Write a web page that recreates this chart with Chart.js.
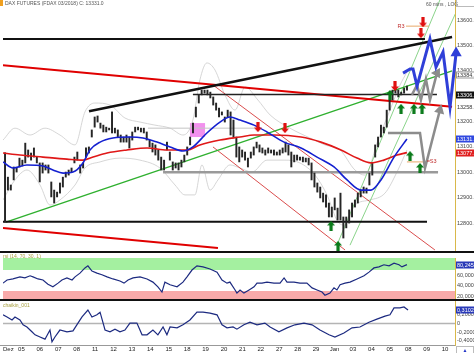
<!DOCTYPE html>
<html>
<head>
<meta charset="utf-8">
<script src="https://cdn.jsdelivr.net/npm/chart.js@4.4.0/dist/chart.umd.min.js"></script>
<style>
  body { margin: 0; background: #fff; }
  #wrap { position: relative; width: 474px; height: 353px; overflow: hidden; background: #fff;
          font-family: "Liberation Sans", Arial, sans-serif; }
  canvas { position: absolute; left: 0; }
  .t { position: absolute; font-size: 5px; line-height: 6px; white-space: nowrap; }
  .rule { position: absolute; left: 0; width: 474px; }
</style>
</head>
<body>
<div id="wrap">
  <canvas id="mainChart" width="474" height="252" style="top:0"></canvas>
  <canvas id="rsiChart" width="474" height="48" style="top:252px"></canvas>
  <canvas id="chaikinChart" width="474" height="53" style="top:300px"></canvas>

  <div class="t" style="left:0;top:0;width:3px;height:6px;background:#f0a020"></div>
  <div class="t" style="left:5px;top:0;color:#555">DAX FUTURES (FDAX 03/2018) C: 13331.0</div>
  <div class="t" style="left:426px;top:1px;color:#555">60 mins , LOG</div>
  <div class="t" style="left:456px;top:0;width:17px;height:6px;border:1px solid #bbb;border-top:0"></div>

  <div class="rule" style="top:251px;height:2px;background:#111"></div>
  <div class="t" style="left:3px;top:253px;color:#a8a040">rsi (14, 70, 30, 1)</div>
  <div class="rule" style="top:299px;height:2px;background:#111"></div>
  <div class="t" style="left:3px;top:302px;color:#a8a040">chaikin_001</div>
  <div class="rule" style="top:345px;height:1px;background:#999;width:455px"></div>
  <div class="t" style="left:456px;top:346px;width:16px;height:6px;border:1px solid #bbb;color:#2436c8;text-align:center">&#9650;</div>
</div>

<script>
// ============================================
// Data
// ============================================
const dayLabels = ['Dez', '05', '06', '07', '08', '11', '12', '13', '14', '15', '18', '19', '20',
                   '21', '22', '27', '28', '29', 'Jan', '03', '04', '05', '08', '09', '10'];

// hourly price ranges, one sample every candleStep days
const candleStart = 0.11;
const candleStep = 0.157;
const candleHigh = [
    13077, 12981, 12950, 13021, 13017, 13056, 13048, 13115, 13088, 13076,
    13096, 13060, 13037, 13037, 13029, 13029, 12962, 12930, 12922, 12958,
    12981, 13001, 13009, 13017, 13060, 13080, 13029, 13037, 13096, 13100,
    13167, 13218, 13222, 13194, 13186, 13178, 13174, 13238, 13174, 13167,
    13147, 13139, 13147, 13139, 13159, 13178, 13178, 13174, 13174, 13159,
    13127, 13115, 13108, 13088, 13060, 13048, 13119, 13080, 13041, 13037,
    13037, 13048, 13068, 13100, 13139, 13194, 13257, 13305, 13324, 13324,
    13324, 13316, 13297, 13273, 13253, 13238, 13218, 13245, 13238, 13206,
    13139, 13100, 13088, 13080, 13056, 13080, 13100, 13119, 13108, 13096,
    13088, 13096, 13088, 13088, 13080, 13088, 13096, 13119, 13108, 13080,
    13068, 13068, 13060, 13060, 13056, 13056, 13037, 12997, 12958, 12942,
    12918, 12911, 12879, 12863, 12899, 12859, 12918, 12824, 12824, 12852,
    12879, 12891, 12918, 12930, 12942, 12938, 12997, 13037, 13108, 13139,
    13186, 13178, 13245, 13285, 13324, 13332, 13324, 13316, 13332, 13340
];
const candleLow = [
    12804, 12930, 12930, 12970, 13001, 13021, 13025, 13037, 13060, 13048,
    13060, 13037, 12962, 12997, 13009, 12997, 12903, 12879, 12903, 12918,
    12942, 12981, 12989, 13001, 13037, 13048, 12997, 13017, 13060, 13076,
    13139, 13178, 13198, 13174, 13159, 13159, 13167, 13155, 13155, 13139,
    13119, 13119, 13119, 13096, 13127, 13159, 13167, 13159, 13155, 13127,
    13100, 13080, 13068, 13048, 13009, 13009, 13088, 13048, 13009, 13017,
    13009, 13021, 13041, 13068, 13108, 13155, 13218, 13273, 13305, 13312,
    13305, 13293, 13265, 13245, 13218, 13226, 13198, 13218, 13147, 13139,
    13060, 13041, 13060, 13048, 13021, 13056, 13068, 13096, 13080, 13076,
    13068, 13076, 13076, 13068, 13068, 13068, 13076, 13080, 13068, 13021,
    13041, 13048, 13048, 13041, 13041, 13029, 12970, 12942, 12922, 12899,
    12883, 12863, 12824, 12824, 12852, 12812, 12812, 12741, 12781, 12800,
    12824, 12863, 12879, 12903, 12918, 12918, 12950, 12989, 13060, 13100,
    13139, 13155, 13178, 13245, 13285, 13312, 13297, 13305, 13312, 13324
];

// moving averages
const blueMaDays = [0, 0.54, 1.30, 2.17, 2.71, 3.26, 3.80, 4.34, 4.72, 5.27, 5.97, 6.89, 7.60, 8.36, 9.07,
                    9.77, 10.31, 11.07, 11.78, 12.32, 12.87, 13.63, 14.33, 15.26, 16.18, 17.05, 17.97,
                    18.68, 19.44, 19.98, 20.52, 21.23, 21.93];
const blueMa = [13041, 13017, 13029, 13025, 13009, 12997, 13001, 13037, 13088, 13119, 13135, 13139,
                13135, 13119, 13100, 13084, 13100, 13155, 13198, 13218, 13206, 13186, 13159, 13119,
                13096, 13060, 13021, 12970, 12930, 12930, 12970, 13060, 13131.25];
const redMaDays = [0, 0.92, 2.17, 3.47, 4.34, 4.89, 5.65, 6.73, 7.82, 8.90, 9.99, 10.69, 11.78, 12.87,
                   13.63, 14.71, 16.18, 17.26, 18.35, 19.22, 19.98, 20.68, 21.39, 21.93];
const redMa = [13076, 13068, 13060, 13052, 13048, 13060, 13076, 13088, 13096, 13088, 13088, 13108,
               13127, 13139, 13147, 13147, 13139, 13119, 13088, 13056, 13037, 13048, 13068, 13077.5];

// bollinger bands
const bandUpDays = [0, 0.65, 1.47, 2.28, 3.09, 3.91, 4.45, 4.99, 5.81, 6.62, 7.44, 8.25, 9.07, 9.77,
                    10.31, 10.69, 11.07, 11.51, 12.05, 12.60, 13.14, 13.84, 14.50, 15.58, 16.67, 17.48,
                    18.30, 19.11, 19.65, 20.36, 21.01, 21.55, 21.93];
const bandUp = [13127, 13174, 13147, 13174, 13147, 13108, 13238, 13273, 13265, 13214, 13198, 13186,
                13174, 13147, 13206, 13364, 13431, 13403, 13305, 13245, 13336, 13285, 13226, 13174,
                13135, 13108, 13088, 13009, 12989, 13127, 13245, 13343, 13395];
const bandLowDays = [0, 0.65, 1.30, 2.01, 2.55, 3.09, 3.91, 4.45, 5.27, 6.35, 7.44, 8.52, 9.34, 9.88,
                     10.42, 10.80, 11.24, 11.67, 12.32, 12.87, 13.52, 14.33, 15.31, 16.12, 16.94, 17.59,
                     18.19, 18.57, 19.11, 19.92, 20.74, 21.39, 21.93];
const bandLow = [12891, 12970, 13009, 12950, 12871, 12891, 12950, 13017, 13041, 13056, 13048, 13017,
                 12950, 12911, 12911, 13029, 12930, 12970, 13029, 13017, 13001, 13048, 13048, 13037,
                 12989, 12911, 12804, 12792, 12871, 12891, 12918, 13001, 13088];

// drawn trend lines and levels: [day, price]
const blackTop = [[0, 13525], [22.91, 13525]];
const blackRise = [[4.67, 13241], [24.38, 13533]];
const black13306 = [[10.31, 13306.5], [23.56, 13306.5]];
const black12805 = [[0, 12805], [23.02, 12805]];
const redTop = [[0, 13422], [24.38, 13258.25]];
const redBottom = [[0, 12781], [11.67, 12702]];
const greenLong = [[0.16, 12804], [24.38, 13400]];
const greenChanA = [[18.13, 12713], [23.72, 13679]];
const greenChanB = [[18.84, 12713], [24.65, 13639]];
const redChanA = [[11.40, 13344], [23.45, 12694]];
const redChanB = [[11.40, 13100], [18.57, 12694]];
const grayLevel = [[8.69, 13000], [23.62, 13000]];
const grayThin = [[7.87, 13174], [13.95, 13174]];
const r3Level = [[21.88, 13576], [23.13, 13576]];
const s3Level = [[21.93, 13041], [22.91, 13041]];

// projected paths
const blueProjection = [[21.72, 13391], [22.10, 13407], [22.26, 13407], [22.48, 13340], [23.18, 13525],
                        [23.51, 13415], [23.89, 13474], [24.27, 13257], [24.60, 13470]];
const grayProjUp = [[22.20, 13305], [22.48, 13344], [22.69, 13285], [22.96, 13368], [23.18, 13285],
                    [23.56, 13391]];
const grayProjLow = [[20.90, 13155], [22.64, 13155], [22.91, 13017], [23.72, 13245]];

// signal arrows
const sellDays = [13.84, 15.31, 21.28, 22.80, 22.69];
const sellPrices = [13178, 13174, 13340, 13591, 13548];
const buyDays = [17.81, 18.19, 21.01, 21.61, 22.31, 22.75, 22.10, 22.64];
const buyPrices = [12789, 12710, 13305, 13250, 13250, 13250, 13064, 13017];

const pinkZone = [[10.15, 13139], [10.97, 13194]];
const mainTicks = [12800, 12900, 13000, 13100, 13200, 13300, 13400, 13500, 13600];
const mainMarks = [13384.75, 13306.5, 13258.25, 13131.25, 13077.5];

// rsi
const rsiDays = [0, 0.22, 0.54, 0.92, 1.19, 1.47, 1.63, 1.90, 2.17, 2.44, 2.71, 2.99, 3.20, 3.47, 3.75,
                 3.91, 4.18, 4.45, 4.61, 4.83, 5.10, 5.37, 5.65, 5.97, 6.35, 6.57, 6.79, 7.06, 7.44,
                 7.82, 8.14, 8.41, 8.63, 8.79, 9.07, 9.45, 9.77, 9.99, 10.26, 10.53, 10.86, 11.24,
                 11.62, 11.89, 12.16, 12.32, 12.60,
                 12.70, 12.87, 13.08, 13.36, 13.63, 13.79, 14.06, 14.33, 14.71, 15.04, 15.26, 15.42,
                 15.80, 16.12, 16.50, 16.78, 17.05, 17.32, 17.48, 17.75, 17.97, 18.13, 18.30, 18.57,
                 18.84, 19.22, 19.60, 19.87, 20.14, 20.41, 20.68, 20.96, 21.23, 21.50, 21.66, 21.93];
const rsiValues = [45, 51, 53, 57, 55, 59, 57, 53, 51, 43, 38, 45, 51, 55, 51, 57, 64, 74, 78, 68,
                   64, 61, 57, 53, 49, 45, 51, 55, 57, 53, 47, 38, 28, 47, 42, 38, 47, 57, 70, 78,
                   76, 72, 66, 51, 45, 47, 32,
                   26, 32, 26, 32, 38, 45, 45, 47, 45, 45, 55, 47, 47, 45, 45, 36, 32, 28, 22, 26,
                   36, 32, 42, 45, 47, 53, 59, 66, 74, 76, 80, 78, 83, 80, 76, 80.2453];
const rsiUpper = 70;
const rsiLower = 30;
const rsiTicks = [20, 40, 60];

// chaikin oscillator
const chaikinDays = [0, 0.22, 0.49, 0.65, 0.92, 1.09, 1.30, 1.57, 1.74, 2.01, 2.28, 2.55, 2.66, 2.82,
                     3.09, 3.47, 3.80, 4.07, 4.29, 4.61, 4.83, 5.10, 5.27, 5.54, 5.81, 6.08, 6.35,
                     6.62, 6.89, 7.27, 7.55, 7.82, 8.14, 8.41, 8.69, 8.90, 9.07, 9.45, 9.77, 10.15,
                     10.53, 10.86, 11.24, 11.62, 11.89, 12.16, 12.49,
                     12.70, 13.08, 13.41, 13.79, 14.22, 14.50, 14.98, 15.42, 15.85, 16.34, 16.78,
                     17.21, 17.70, 18.02, 18.51, 18.95, 19.38, 19.87, 20.30, 20.74, 21.01, 21.23,
                     21.55, 21.77, 21.99];
const chaikinValues = [0.20, 0.15, 0.08, 0.15, 0.08, -0.03, -0.08, -0.19, -0.26, -0.31, -0.36, -0.15,
                       -0.42, -0.31, -0.15, -0.19, -0.17, 0.01, 0.15, 0.31, 0.15, 0.20, 0.26, -0.15,
                       -0.19, -0.13, -0.19, -0.15, 0.01, 0.01, -0.26, -0.26, -0.15, -0.26, -0.08,
                       -0.26, -0.08, -0.10, -0.03, 0.08, 0.26, 0.26, 0.24, 0.20, -0.03, -0.10, -0.08,
                       -0.13, -0.03, 0.03, -0.03, 0.01, -0.08, -0.19, -0.10, -0.03, 0.01, -0.03,
                       -0.15, -0.26, -0.31, -0.22, -0.10, -0.08, 0.03, 0.10, 0.17, 0.20, 0.36,
                       0.36, 0.38, 0.3102];
const chaikinTicks = [-0.4, -0.2, 0, 0.2];

// ============================================
// Helpers
// ============================================
const FONT = '"Liberation Sans", Arial, sans-serif';
const X_MAX = 24.54;

function pts(pairs) {
    return pairs.map(p => ({ x: p[0], y: p[1] }));
}

function zip(xs, ys) {
    return xs.map((x, i) => ({ x: x, y: ys[i] }));
}

function lineSet(data, color, width, order, extra) {
    return Object.assign({
        type: 'line', data: data, borderColor: color, borderWidth: width,
        pointRadius: 0, fill: false, tension: 0, order: order
    }, extra || {});
}

function arrowHead(color, rotation) {
    return {
        pointStyle: 'triangle',
        pointRotation: rotation,
        pointBackgroundColor: color,
        pointBorderColor: color,
        pointRadius: ctx => ctx.dataIndex === ctx.dataset.data.length - 1 ? 3.5 : 0
    };
}

function arrowImage(color, down) {
    const c = document.createElement('canvas');
    c.width = 8;
    c.height = 10;
    const g = c.getContext('2d');
    if (down) {
        g.translate(0, 10);
        g.scale(1, -1);
    }
    g.fillStyle = color;
    g.beginPath();
    g.moveTo(4, 0);
    g.lineTo(8, 4.5);
    g.lineTo(5.6, 4.5);
    g.lineTo(5.6, 10);
    g.lineTo(2.4, 10);
    g.lineTo(2.4, 4.5);
    g.lineTo(0, 4.5);
    g.closePath();
    g.fill();
    return c;
}

// fixed right axis width, no extra label padding, so the three panels line up
function yAxis(min, max, ticks, fmt) {
    return {
        position: 'right', min: min, max: max,
        grid: { display: false, drawTicks: false },
        border: { display: true, color: '#d9b84a', dash: [2, 2] },
        ticks: { padding: 2, color: '#444', font: { size: 5.5, family: FONT }, callback: fmt },
        afterBuildTicks: s => { s.ticks = ticks.map(v => ({ value: v })); },
        afterFit: s => { s.width = 19; s.paddingTop = 0; s.paddingBottom = 0; }
    };
}

function hiddenX() {
    return { type: 'linear', display: false, offset: false, min: 0, max: X_MAX };
}

// zones, notes and value boxes on the axis
const overlay = {
    id: 'overlay',
    beforeDatasetsDraw(chart, args, opts) {
        const { ctx, scales: { x, y } } = chart;
        (opts.zones || []).forEach(z => {
            const x0 = x.getPixelForValue(z.area[0][0]);
            const x1 = x.getPixelForValue(z.area[1][0]);
            const y0 = y.getPixelForValue(z.area[1][1]);
            const y1 = y.getPixelForValue(z.area[0][1]);
            ctx.fillStyle = z.color;
            ctx.fillRect(x0, y0, x1 - x0, y1 - y0);
        });
    },
    afterDraw(chart, args, opts) {
        const { ctx, chartArea, scales: { x, y } } = chart;
        ctx.save();
        ctx.textBaseline = 'middle';
        ctx.font = '5.5px ' + FONT;
        (opts.notes || []).forEach(n => {
            ctx.fillStyle = n.color;
            ctx.textAlign = n.align || 'left';
            ctx.fillText(n.text, x.getPixelForValue(n.at[0]), y.getPixelForValue(n.at[1]));
        });
        ctx.textAlign = 'left';
        (opts.marks || []).forEach(m => {
            const py = Math.round(y.getPixelForValue(m.value));
            const left = chartArea.right + 1;
            ctx.fillStyle = m.bg;
            ctx.fillRect(left, py - 3.5, chart.width - left, 7);
            if (m.line) {
                ctx.strokeStyle = m.line;
                ctx.lineWidth = 1;
                ctx.strokeRect(left + 0.5, py - 3, chart.width - left, 6);
            }
            ctx.fillStyle = m.fg;
            ctx.fillText(m.label, left + 1, py + 0.5);
        });
        ctx.restore();
    }
};

const baseOptions = {
    responsive: false,
    animation: false,
    devicePixelRatio: 1,
    events: []
};

// ============================================
// Price panel
// ============================================
const candles = candleHigh.map((h, i) => ({ x: candleStart + i * candleStep, y: [candleLow[i], h] }));

new Chart(document.getElementById('mainChart'), {
    type: 'bar',
    data: {
        datasets: [
            { type: 'scatter', data: zip(sellDays, sellPrices), pointStyle: arrowImage('#e01010', true),
              pointRadius: 5, order: 1 },
            { type: 'scatter', data: zip(buyDays, buyPrices), pointStyle: arrowImage('#0a7a1a', false),
              pointRadius: 5, order: 1 },

            lineSet(pts(blueProjection), '#2f3fd8', 3, 3,
                    Object.assign({ clip: false }, arrowHead('#2f3fd8', 0))),
            lineSet(pts(grayProjUp), '#8c8c8c', 2.5, 3, arrowHead('#8c8c8c', 30)),
            lineSet(pts(grayProjLow), '#8c8c8c', 2.5, 3, arrowHead('#8c8c8c', 15)),

            lineSet(zip(blueMaDays, blueMa), '#1420d0', 1.6, 4, { cubicInterpolationMode: 'monotone' }),
            lineSet(zip(redMaDays, redMa), '#e01818', 1.6, 4, { cubicInterpolationMode: 'monotone' }),

            { type: 'bar', data: candles, backgroundColor: '#262626', barThickness: 1.3,
              minBarLength: 1, order: 5 },

            lineSet(pts(blackTop), '#111', 2, 6),
            lineSet(pts(blackRise), '#111', 2.5, 6),
            lineSet(pts(black13306), '#222', 1.6, 6),
            lineSet(pts(black12805), '#111', 2, 6),
            lineSet(pts(redTop), '#e00000', 2, 6),
            lineSet(pts(redBottom), '#e00000', 2, 6),
            lineSet(pts(greenLong), '#2fb02f', 1.4, 6),
            lineSet(pts(grayLevel), '#9a9a9a', 2.5, 6),
            lineSet(pts(r3Level), '#e8a868', 1, 6),
            lineSet(pts(s3Level), '#e8a868', 1, 6),

            lineSet(pts(greenChanA), '#6cc86c', 0.8, 7),
            lineSet(pts(greenChanB), '#6cc86c', 0.8, 7),
            lineSet(pts(redChanA), '#d02020', 0.8, 7),
            lineSet(pts(redChanB), '#d02020', 0.8, 7),
            lineSet(pts(grayThin), '#c4c4c4', 1, 7),

            lineSet(zip(bandUpDays, bandUp), '#cccccc', 0.8, 8, { cubicInterpolationMode: 'monotone' }),
            lineSet(zip(bandLowDays, bandLow), '#cccccc', 0.8, 8, { cubicInterpolationMode: 'monotone' })
        ]
    },
    options: Object.assign({}, baseOptions, {
        layout: { autoPadding: false, padding: { left: 3, right: 0, top: 0, bottom: 0 } },
        plugins: {
            legend: { display: false },
            tooltip: { enabled: false },
            overlay: {
                zones: [{ area: pinkZone, color: '#f290ee' }],
                notes: [
                    { text: 'R3', at: [21.80, 13576], color: '#c03030', align: 'right' },
                    { text: '=S3', at: [23.00, 13041], color: '#c03030' }
                ],
                marks: [
                    { value: mainMarks[0], label: '13384.75', bg: '#fff', fg: '#333', line: '#999' },
                    { value: mainMarks[1], label: '13306.50', bg: '#111', fg: '#fff' },
                    { value: mainMarks[2], label: '13258.25', bg: '#fff', fg: '#333' },
                    { value: mainMarks[3], label: '13131.25', bg: '#3048e0', fg: '#fff' },
                    { value: mainMarks[4], label: '13077.50', bg: '#e02020', fg: '#fff' }
                ]
            }
        },
        scales: {
            x: hiddenX(),
            y: yAxis(12686, 13679, mainTicks, v => v.toFixed(2))
        }
    }),
    plugins: [overlay]
});

// ============================================
// RSI panel
// ============================================
new Chart(document.getElementById('rsiChart'), {
    type: 'line',
    data: {
        datasets: [
            lineSet(zip(rsiDays, rsiValues), '#1c2a80', 1.2, 1),
            lineSet(pts([[0, rsiUpper], [X_MAX, rsiUpper]]), 'rgba(0,0,0,0)', 0, 5,
                    { fill: 'end', backgroundColor: '#a4f0a0' }),
            lineSet(pts([[0, rsiLower], [X_MAX, rsiLower]]), 'rgba(0,0,0,0)', 0, 5,
                    { fill: 'start', backgroundColor: '#f8aaaa' })
        ]
    },
    options: Object.assign({}, baseOptions, {
        layout: { autoPadding: false, padding: { left: 3, right: 0, top: 6, bottom: 1 } },
        plugins: {
            legend: { display: false },
            tooltip: { enabled: false },
            overlay: {
                marks: [{ value: rsiValues[rsiValues.length - 1], label: '80,2453', bg: '#2a3ab8', fg: '#fff' }]
            }
        },
        scales: {
            x: hiddenX(),
            y: yAxis(14.8, 92.9, rsiTicks, v => v.toFixed(4).replace('.', ','))
        }
    }),
    plugins: [overlay]
});

// ============================================
// Chaikin panel (carries the date axis)
// ============================================
new Chart(document.getElementById('chaikinChart'), {
    type: 'line',
    data: {
        datasets: [
            lineSet(zip(chaikinDays, chaikinValues), '#1c2a80', 1.2, 1),
            lineSet(pts([[0, 0], [X_MAX, 0]]), '#b4b4b4', 1.5, 5)
        ]
    },
    options: Object.assign({}, baseOptions, {
        layout: { autoPadding: false, padding: { left: 3, right: 0, top: 1, bottom: 0 } },
        plugins: {
            legend: { display: false },
            tooltip: { enabled: false },
            overlay: {
                marks: [{ value: chaikinValues[chaikinValues.length - 1], label: '0,3102', bg: '#2a3ab8', fg: '#fff' }]
            }
        },
        scales: {
            x: {
                type: 'linear', min: 0, max: X_MAX, offset: false,
                grid: { display: false, drawTicks: false },
                border: { display: false },
                ticks: {
                    padding: 1, align: 'inner', maxRotation: 0, autoSkip: false,
                    color: '#222', font: { size: 6, family: FONT },
                    callback: v => dayLabels[v] || ''
                },
                afterBuildTicks: s => {
                    s.ticks = dayLabels.map((d, i) => ({ value: i })).concat([{ value: X_MAX }]);
                },
                afterFit: s => { s.height = 8; s.paddingLeft = 0; s.paddingRight = 0; }
            },
            y: yAxis(-0.494, 0.517, chaikinTicks,
                     v => v === 0 ? '0' : v.toFixed(4).replace('.', ','))
        }
    }),
    plugins: [overlay]
});
</script>
</body>
</html>
